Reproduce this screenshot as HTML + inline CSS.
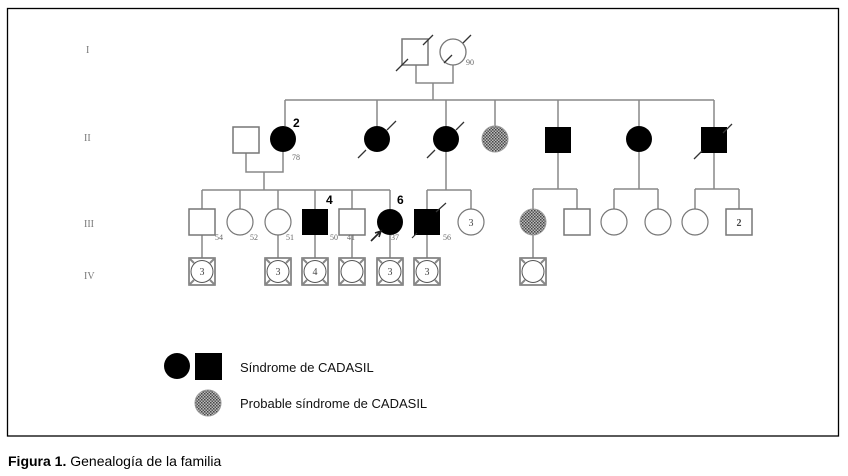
<!DOCTYPE html>
<html><head><meta charset="utf-8"><style>
html,body{margin:0;padding:0;background:#fff;}
svg{display:block;}
</style></head><body>
<svg width="848" height="476" viewBox="0 0 848 476" xmlns="http://www.w3.org/2000/svg">
<defs>
<pattern id="h" width="3" height="3" patternUnits="userSpaceOnUse">
<rect width="3" height="3" fill="#bbb"/><rect width="1.5" height="1.5" fill="#444"/><rect x="1.5" y="1.5" width="1.5" height="1.5" fill="#555"/>
</pattern>
<g id="iv">
<rect x="-13" y="-13" width="26" height="27" fill="#fff" stroke="#777" stroke-width="1.6"/>
<path d="M-13,-13 l5,5 M13,-13 l-5,5 M-13,14 l5,-5 M13,14 l-5,-5" stroke="#888" stroke-width="2"/>
<circle cx="0" cy="0.5" r="11" fill="#fff" stroke="#555" stroke-width="1"/>
</g>
</defs>
<rect x="7.5" y="8.5" width="831" height="427.5" fill="none" stroke="#000" stroke-width="1.3"/>
<g font-family="Liberation Serif, serif" font-size="10" fill="#777">
<text x="86" y="53">I</text><text x="84" y="141">II</text><text x="84" y="227">III</text><text x="84" y="279">IV</text>
</g>
<g stroke="#888" stroke-width="1.5" fill="none">
<!-- Gen I -->
<path d="M416,65 V83 H453 V65 M433,83 V100 M285,100 H714"/>
<path d="M285,100 V126 M377,100 V126 M446,100 V126 M495,100 V126 M558,100 V127 M639,100 V126 M714,100 V127"/>
<!-- Gen II -> III -->
<path d="M246,153 V172 H283 V152 M264,172 V190 M202,190 H390"/>
<path d="M202,190 V209 M240,190 V209 M278,190 V209 M315,190 V209 M352,190 V209 M390,190 V209"/>
<path d="M446,152 V190 M427,190 H471 M427,190 V209 M471,190 V209"/>
<path d="M558,153 V189 M533,189 H577 M533,189 V209 M577,189 V209"/>
<path d="M639,152 V189 M614,189 H658 M614,189 V209 M658,189 V209"/>
<path d="M714,153 V189 M695,189 H739 M695,189 V209 M739,189 V209"/>
<!-- III -> IV -->
<path d="M202,235 V258 M278,235 V258 M315,235 V258 M352,235 V258 M390,235 V258 M427,235 V258 M533,235 V258"/>
</g>
<!-- Gen I -->
<rect x="402" y="39" width="26" height="26" fill="#fff" stroke="#777" stroke-width="1.5"/>
<circle cx="453" cy="52" r="13" fill="#fff" stroke="#777" stroke-width="1.3"/>
<path d="M396,71 l12,-12 M423,45 l10,-10 M444,63 l8,-8 M463,43 l8,-8" stroke="#333" stroke-width="1.3"/>
<text x="466" y="65" font-family="Liberation Serif,serif" font-size="8" fill="#666">90</text>
<!-- Gen II -->
<rect x="233" y="127" width="26" height="26" fill="#fff" stroke="#777" stroke-width="1.5"/>
<circle cx="283" cy="139" r="13" fill="#000"/>
<text x="293" y="127" font-family="Liberation Sans,sans-serif" font-size="12" font-weight="bold">2</text>
<text x="292" y="160" font-family="Liberation Serif,serif" font-size="8" fill="#666">78</text>
<circle cx="377" cy="139" r="13" fill="#000"/>
<circle cx="446" cy="139" r="13" fill="#000"/>
<circle cx="495" cy="139" r="13" fill="url(#h)" stroke="#999" stroke-width="1"/>
<rect x="545" y="127" width="26" height="26" fill="#000"/>
<circle cx="639" cy="139" r="13" fill="#000"/>
<rect x="701" y="127" width="26" height="26" fill="#000"/>
<path d="M358,158 l8,-8 M387,130 l9,-9 M427,158 l8,-8 M456,130 l8,-8 M694,159 l8,-8 M723,133 l9,-9" stroke="#333" stroke-width="1.3"/>
<!-- Gen III -->
<g stroke="#777" stroke-width="1.5">
<rect x="189" y="209" width="26" height="26" fill="#fff"/>
<circle cx="240" cy="222" r="13" fill="#fff" stroke-width="1.2"/>
<circle cx="278" cy="222" r="13" fill="#fff" stroke-width="1.2"/>
<rect x="302" y="209" width="26" height="26" fill="#000" stroke="none"/>
<rect x="339" y="209" width="26" height="26" fill="#fff"/>
<circle cx="390" cy="222" r="13" fill="#000" stroke="none"/>
<rect x="414" y="209" width="26" height="26" fill="#000" stroke="none"/>
<circle cx="471" cy="222" r="13" fill="#fff" stroke-width="1.2"/>
<circle cx="533" cy="222" r="13" fill="url(#h)" stroke="#999" stroke-width="1"/>
<rect x="564" y="209" width="26" height="26" fill="#fff"/>
<circle cx="614" cy="222" r="13" fill="#fff" stroke-width="1.2"/>
<circle cx="658" cy="222" r="13" fill="#fff" stroke-width="1.2"/>
<circle cx="695" cy="222" r="13" fill="#fff" stroke-width="1.2"/>
<rect x="726" y="209" width="26" height="26" fill="#fff"/>
</g>
<path d="M436,212 l10,-9 M412,238 l5,-5" stroke="#333" stroke-width="1.2"/>
<path d="M371,241 l10,-10 M375,233 l6,-2 l-2,6" stroke="#222" stroke-width="1.6" fill="none"/>
<g font-family="Liberation Sans,sans-serif" font-size="12" font-weight="bold">
<text x="326" y="204">4</text><text x="397" y="204">6</text>
</g>
<g font-family="Liberation Serif,serif" font-size="8" fill="#666">
<text x="215" y="240">54</text><text x="250" y="240">52</text><text x="286" y="240">51</text>
<text x="330" y="240">50</text><text x="347" y="240">41</text><text x="391" y="240">37</text><text x="443" y="240">56</text>
</g>
<g font-family="Liberation Serif,serif" font-size="10" fill="#444" text-anchor="middle">
<text x="471" y="226">3</text><text x="739" y="226" font-weight="bold">2</text>
</g>
<!-- Gen IV -->
<g font-family="Liberation Serif,serif" font-size="10" fill="#444" text-anchor="middle">
<use href="#iv" x="202" y="271"/><text x="202" y="275">3</text>
<use href="#iv" x="278" y="271"/><text x="278" y="275">3</text>
<use href="#iv" x="315" y="271"/><text x="315" y="275">4</text>
<use href="#iv" x="352" y="271"/>
<use href="#iv" x="390" y="271"/><text x="390" y="275">3</text>
<use href="#iv" x="427" y="271"/><text x="427" y="275">3</text>
<use href="#iv" x="533" y="271"/>
</g>
<!-- Legend -->
<circle cx="177" cy="366" r="13" fill="#000"/>
<rect x="195" y="353" width="27" height="27" fill="#000"/>
<circle cx="208" cy="403" r="13" fill="url(#h)" stroke="#999" stroke-width="1"/>
<g font-family="Liberation Sans,sans-serif" font-size="13" fill="#111">
<text x="240" y="372">Síndrome de CADASIL</text>
<text x="240" y="408">Probable síndrome de CADASIL</text>
</g>
<text x="8" y="466" font-family="Liberation Sans,sans-serif" font-size="14" fill="#000"><tspan font-weight="bold">Figura 1.</tspan> Genealogía de la familia</text>
</svg>
</body></html>
